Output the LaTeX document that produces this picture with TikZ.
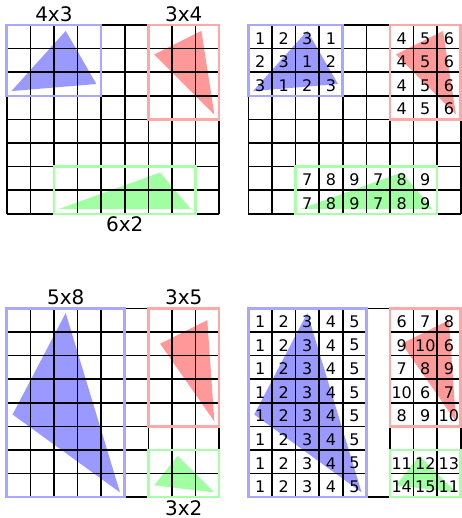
\documentclass[tikz,border=0pt]{standalone}
\usepackage{fontspec}
\setmainfont{DejaVu Sans}
\definecolor{triblue}{RGB}{153,153,255}
\definecolor{trired}{RGB}{255,153,153}
\definecolor{trigreen}{RGB}{160,255,160}
\definecolor{edgeblue}{RGB}{168,168,255}
\definecolor{edgered}{RGB}{255,168,168}
\definecolor{edgegreen}{RGB}{168,255,168}
\tikzset{
	gridline/.style={line width=1.6pt, draw=black},
	bluebox/.style={draw=edgeblue, line width=2.5pt},
	redbox/.style={draw=edgered, line width=2.5pt},
	greenbox/.style={draw=edgegreen, line width=2.5pt},
	bluetri/.style={fill=triblue},
	redtri/.style={fill=trired},
	greentri/.style={fill=trigreen},
	cellnum/.style={font=\fontsize{16}{16}\selectfont, inner sep=0pt, yshift=-1.5pt},
	sizelabel/.style={font=\fontsize{20}{20}\selectfont, inner sep=0pt},
}
\newcommand{\toptris}{%
	\fill[bluetri] (2.5,0.25) -- (0.2,2.8) -- (3.8,2.5) -- cycle;
	\fill[redtri] (8.25,0.25) -- (6.25,1.25) -- (8.8,3.8) -- cycle;
	\fill[greentri] (6.5,6.25) -- (2.2,7.8) -- (7.8,7.8) -- cycle;
}
\newcommand{\bottris}{%
	\fill[bluetri] (2.5,0.2) -- (0.25,4.5) -- (4.8,7.8) -- cycle;
	\fill[redtri] (8.5,0.5) -- (6.5,1.5) -- (8.8,4.8) -- cycle;
	\fill[greentri] (7.25,6.25) -- (6.25,7.5) -- (8.8,7.8) -- cycle;
}
\newcommand{\fullgrid}{%
	\foreach \i in {0,...,9} \draw[gridline] (\i,0) -- (\i,8);
	\foreach \j in {0,...,8} \draw[gridline] (0,\j) -- (9,\j);
}
\begin{document}
\begin{tikzpicture}[x=23.6pt, y=-23.6pt]
	\useasboundingbox (0pt,0pt) rectangle (461pt,-518pt);
	% top left: tile sizes
	\begin{scope}[shift={(6.7pt,-25pt)}]
		\toptris
		\fullgrid
		\draw[bluebox] (0,0) rectangle (4,3);
		\draw[redbox] (6,0) rectangle (9,4);
		\draw[greenbox] (2,6) rectangle (8,8);
		\node[sizelabel, anchor=south, yshift=3.3pt] (tl-blue) at (2,0) {4x3};
		\node[sizelabel, anchor=south, yshift=3.3pt] (tl-red) at (7.5,0) {3x4};
		\node[sizelabel, anchor=north, yshift=-2.4pt] (tl-green) at (5,8) {6x2};
	\end{scope}
	% top right: tile ids
	\begin{scope}[shift={(248.3pt,-25pt)}]
		\toptris
		\fullgrid
		\draw[bluebox] (0,0) rectangle (4,3);
		\draw[redbox] (6,0) rectangle (9,4);
		\draw[greenbox] (2,6) rectangle (8,8);
		\foreach \n [count=\k from 0] in {1,2,3,1,2,3,1,2,3,1,2,3} {
			\pgfmathtruncatemacro{\cx}{mod(\k,4)}
			\pgfmathtruncatemacro{\cy}{div(\k,4)}
			\node[cellnum] (tr-b\k) at (\cx+0.5,\cy+0.5) {\n};
		}
		\foreach \cy in {0,...,3}
			\foreach \n [count=\cx from 6] in {4,5,6}
				\node[cellnum] (tr-r\cx\cy) at (\cx+0.5,\cy+0.5) {\n};
		\foreach \cy in {6,7}
			\foreach \n [count=\cx from 2] in {7,8,9,7,8,9}
				\node[cellnum] (tr-g\cx\cy) at (\cx+0.5,\cy+0.5) {\n};
	\end{scope}
	% bottom left: tile sizes
	\begin{scope}[shift={(6.7pt,-308.3pt)}]
		\bottris
		\fullgrid
		\draw[bluebox] (0,0) rectangle (5,8);
		\draw[redbox] (6,0) rectangle (9,5);
		\draw[greenbox] (6,6) rectangle (9,8);
		\node[sizelabel, anchor=south, yshift=3.3pt] (bl-blue) at (2.5,0) {5x8};
		\node[sizelabel, anchor=south, yshift=3.3pt] (bl-red) at (7.5,0) {3x5};
		\node[sizelabel, anchor=north, yshift=-3pt] (bl-green) at (7.5,8) {3x2};
	\end{scope}
	% bottom right: tile ids
	\begin{scope}[shift={(248.3pt,-308.3pt)}]
		\bottris
		\foreach \i in {0,...,9} \draw[gridline] (\i,0) -- (\i,8);
		\draw[gridline] (0,0) -- (9,0);
		\draw[gridline] (0,8) -- (9,8);
		\foreach \j in {1,...,7} {
			\draw[gridline] (0,\j) -- (5,\j);
			\draw[gridline] (6,\j) -- (9,\j);
		}
		\draw[bluebox] (0,0) rectangle (5,8);
		\draw[redbox] (6,0) rectangle (9,5);
		\draw[greenbox] (6,6) rectangle (9,8);
		\foreach \cy in {0,...,7}
			\foreach \n [count=\cx from 0] in {1,2,3,4,5}
				\node[cellnum] (br-b\cx\cy) at (\cx+0.5,\cy+0.5) {\n};
		\foreach \n [count=\k from 0] in {6,7,8,9,10,6,7,8,9,10,6,7,8,9,10} {
			\pgfmathtruncatemacro{\cx}{6+mod(\k,3)}
			\pgfmathtruncatemacro{\cy}{div(\k,3)}
			\node[cellnum] (br-r\k) at (\cx+0.5,\cy+0.5) {\n};
		}
		\foreach \n [count=\k from 0] in {11,12,13,14,15,11} {
			\pgfmathtruncatemacro{\cx}{6+mod(\k,3)}
			\pgfmathtruncatemacro{\cy}{6+div(\k,3)}
			\node[cellnum] (br-g\k) at (\cx+0.5,\cy+0.5) {\n};
		}
	\end{scope}
\end{tikzpicture}
\end{document}
